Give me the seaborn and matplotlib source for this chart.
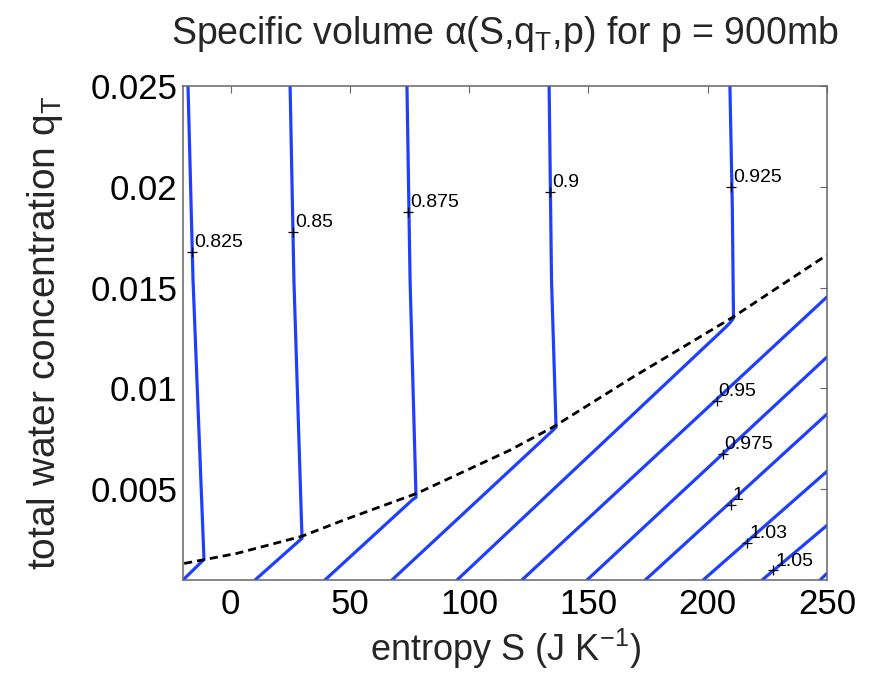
import numpy as np
import pandas as pd
import matplotlib
matplotlib.use("Agg")
import matplotlib.pyplot as plt
import seaborn as sns

# ---------------- data ----------------
# contour polylines (entropy S, total water q_T) per specific-volume level
S_0825 = [-17.9, -15.8, -11.2, -20.0]
Q_0825 = [0.0250, 0.01538, 0.00152, 0.0005]

S_0850 = [24.9, 26.5, 29.9, 10.2]
Q_0850 = [0.0250, 0.01538, 0.00257, 0.0005]

S_0875 = [73.9, 75.2, 77.7, 76.4, 39.5]
Q_0875 = [0.0250, 0.01538, 0.00460, 0.00450, 0.0005]

S_0900 = [133.5, 134.5, 136.4, 134.7, 67.6]
Q_0900 = [0.0250, 0.01538, 0.00808, 0.00788, 0.0005]

S_0925 = [209.3, 210.3, 210.8, 209.3, 207.2, 94.9]
Q_0925 = [0.0250, 0.01900, 0.01349, 0.01325, 0.01300, 0.0005]

S_0950 = [122.1, 250.0]
Q_0950 = [0.0005, 0.01454]

S_0975 = [149.4, 250.0]
Q_0975 = [0.0005, 0.01156]

S_1000 = [173.8, 250.0]
Q_1000 = [0.0005, 0.00873]

S_1025 = [198.1, 250.0]
Q_1025 = [0.0005, 0.00589]

S_1050 = [222.8, 250.0]
Q_1050 = [0.0005, 0.00321]

S_1075 = [247.1, 250.0]
Q_1075 = [0.0005, 0.00083]

LEVELS = ["0.825", "0.85", "0.875", "0.9", "0.925", "0.95",
          "0.975", "1", "1.025", "1.05", "1.075"]

# saturation curve (dashed)
SAT_S = [-19.5, 2.6, 29.9, 47.1, 78.1, 117.1, 135.1, 168.6, 210.6, 250.0]
SAT_Q = [0.00132, 0.00182, 0.00267, 0.00346, 0.00480, 0.00694,
         0.00808, 0.01056, 0.01354, 0.01662]

# contour labels
LABEL_TEXT = ["0.825", "0.85", "0.875", "0.9", "0.925",
              "0.95", "0.975", "1", "1.03", "1.05"]
LABEL_S = [-16.1, 26.1, 74.4, 133.9, 209.8, 203.8, 206.3, 209.6, 216.6, 227.5]
LABEL_Q = [0.01677, 0.01777, 0.01876, 0.01975, 0.0200,
           0.00937, 0.00674, 0.00424, 0.00233, 0.00098]

X_TICKS = [0, 50, 100, 150, 200, 250]
Y_TICKS = [0.005, 0.01, 0.015, 0.02, 0.025]
Y_TICK_LABELS = ["0.005", "0.01", "0.015", "0.02", "0.025"]

# ---------------- build long-form table ----------------
line_S = [S_0825, S_0850, S_0875, S_0900, S_0925, S_0950,
          S_0975, S_1000, S_1025, S_1050, S_1075]
line_Q = [Q_0825, Q_0850, Q_0875, Q_0900, Q_0925, Q_0950,
          Q_0975, Q_1000, Q_1025, Q_1050, Q_1075]
frames = []
for lev, s, q in zip(LEVELS, line_S, line_Q):
    frames.append(pd.DataFrame({"S": s, "q": q, "level": lev,
                                "order": range(len(s))}))
df = pd.concat(frames, ignore_index=True)

# ---------------- styling ----------------
sns.set_style("white")
plt.rcParams["font.family"] = ["Liberation Sans", "DejaVu Sans"]
plt.rcParams["mathtext.fontset"] = "custom"
plt.rcParams["mathtext.rm"] = "Liberation Sans"
plt.rcParams["mathtext.it"] = "Liberation Sans:italic"
plt.rcParams["mathtext.bf"] = "Liberation Sans:bold"

BLUE = "#1f3fff"

fig = plt.figure(figsize=(8.72, 6.76), dpi=100)
ax = fig.add_axes([183 / 872, 96 / 676, 644 / 872, 494 / 676])

sns.lineplot(data=df, x="S", y="q", units="level", estimator=None,
             sort=False, color=BLUE, linewidth=2.3, ax=ax, legend=False)

sns.lineplot(x=SAT_S, y=SAT_Q, sort=False, estimator=None, color="black",
             linewidth=2.0, linestyle=(0, (2.9, 1.8)), ax=ax)

sns.scatterplot(x=LABEL_S, y=LABEL_Q, marker="+", color="black", s=45,
                linewidth=0.9, ax=ax, zorder=5)
for t, s, q in zip(LABEL_TEXT, LABEL_S, LABEL_Q):
    ax.annotate(t, (s, q), xytext=(1.4, 3.4), textcoords="offset points",
                fontsize=14, ha="left", va="baseline", color="black",
                zorder=6)

ax.set_xlim(-20, 250)
ax.set_ylim(0.0005, 0.025)
ax.set_xticks(X_TICKS)
ax.set_xticklabels([str(v) for v in X_TICKS])
ax.set_yticks(Y_TICKS)
ax.set_yticklabels(Y_TICK_LABELS)

ax.tick_params(axis="both", which="major", direction="in", length=5,
               width=0.8, color="#666666", labelsize=25,
               top=True, right=True, labelcolor="black")
ax.tick_params(axis="x", pad=6)
ax.tick_params(axis="y", pad=4)
for sp in ax.spines.values():
    sp.set_color("#666666")
    sp.set_linewidth(1.1)
    sp.set_visible(True)

ax.set_xlabel("entropy S (J K$^{-1}$)", fontsize=26, labelpad=4)
ax.set_ylabel("total water concentration q$_{\\mathrm{T}}$", fontsize=28,
              labelpad=18)
ax.set_title("Specific volume α(S,q$_{\\mathrm{T}}$,p) for p = 900mb",
             fontsize=27, pad=30)

fig.savefig("out.png", dpi=100, facecolor="white")
